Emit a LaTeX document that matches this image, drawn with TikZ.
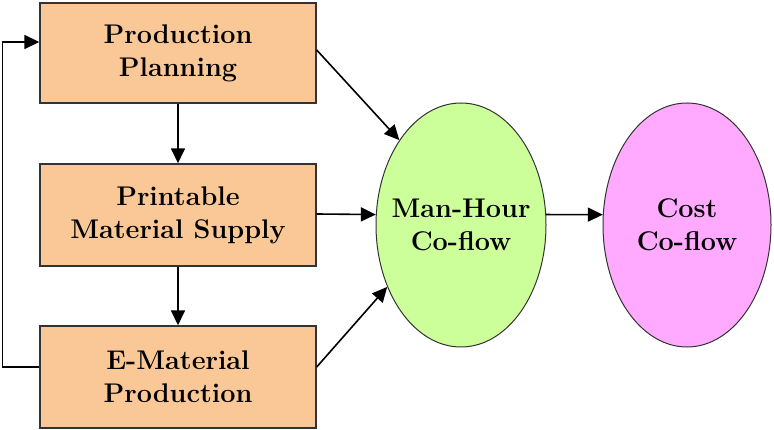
\documentclass[tikz,border=0pt]{standalone}
\usepackage{fontspec}
\usetikzlibrary{arrows.meta,shapes.geometric}
\definecolor{boxfill}{RGB}{250,200,150}
\definecolor{mhfill}{RGB}{204,255,153}
\definecolor{costfill}{RGB}{255,170,255}
\tikzset{
  labelfont/.style={font=\fontsize{27}{33}\selectfont\bfseries},
  stage/.style={draw=black!80, line width=1.4pt, fill=boxfill, minimum width=276pt,
    minimum height=100pt, align=center, inner sep=0pt, labelfont},
  flow/.style={ellipse, draw=black!80, line width=1pt, minimum width=170pt,
    minimum height=244pt, inner sep=0pt},
  flowtext/.style={align=center, inner sep=0pt, labelfont},
  arr/.style={line width=1.6pt, -{Triangle[length=15pt,width=14pt]}}
}
\begin{document}
\begin{tikzpicture}[x=1pt,y=-1pt]
  \useasboundingbox (0,0) rectangle (774,430);
  \node[stage, minimum height=100pt] (plan) at (178,53) {Production\\Planning};
  \node[stage, minimum height=102pt] (supply) at (178,215) {Printable\\Material Supply};
  \node[stage, minimum height=102pt] (emat) at (178,377) {E-Material\\Production};
  \node[flow, fill=mhfill] (mh) at (461,225) {};
  \node[flowtext] (mhtext) at (mh.center) {Man-Hour\\Co-flow};
  \node[flow, fill=costfill, minimum width=168pt] (cost) at (687,225) {};
  \node[flowtext] (costtext) at (cost.center) {Cost\\Co-flow};

  \draw[arr] (plan) -- (supply);
  \draw[arr] (supply) -- (emat);
  \draw[arr] ([yshift=10pt]emat.west) -- ++(-37,0) |- ([yshift=11pt]plan.west);
  \draw[arr] ([yshift=3pt]plan.east) -- (mh.126);
  \draw[arr] ([yshift=1pt]supply.east) -- (mh.173);
  \draw[arr] ([yshift=10pt]emat.east) -- (mh.220);
  \draw[arr] (mh.7) -- (cost.173);
\end{tikzpicture}
\end{document}
